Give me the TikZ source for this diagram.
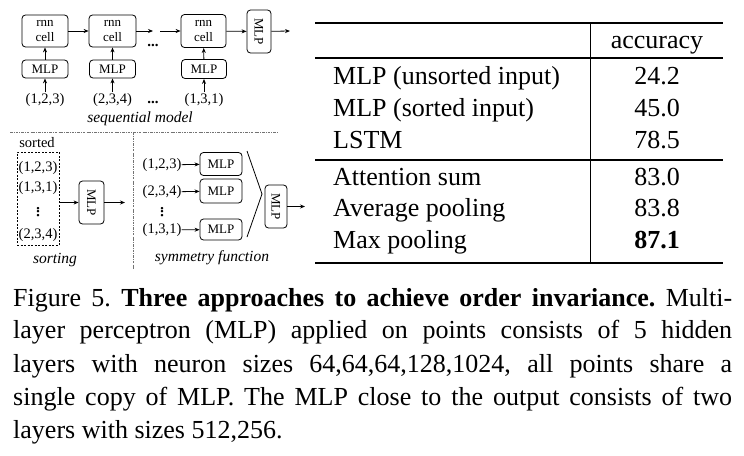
\documentclass[tikz,border=0pt]{standalone}
\usepackage{fontspec}
\setmainfont{Liberation Serif}
\usepackage{graphicx}
\usetikzlibrary{arrows.meta}
\frenchspacing
\begin{document}
\begin{tikzpicture}[x=1pt,y=-1pt]
\tikzset{
 bx/.style={draw, rounded corners=3.5pt, line width=0.8pt, inner sep=0pt, font=\fontsize{13}{15}\selectfont, align=center},
 lbl/.style={inner sep=0pt, font=\fontsize{14.5}{16}\selectfont},
 ital/.style={inner sep=0pt, font=\fontsize{15.5}{17}\selectfont\itshape},
 arr/.style={-{Stealth[length=5pt,width=4pt]}, line width=0.8pt},
 sepline/.style={draw=black!55, line width=0.7pt, dash pattern=on 2.5pt off 1.2pt on 0.7pt off 1.2pt},
 rulel/.style={line width=1.1pt},
 tab/.style={inner sep=0pt, anchor=base west, font=\fontsize{26}{30}\selectfont},
 num/.style={inner sep=0pt, anchor=base, font=\fontsize{26}{30}\selectfont},
 capl/.style={inner sep=0pt, anchor=base west, font=\fontsize{26}{30}\selectfont},
 dotsn/.style={inner sep=0pt, font=\fontsize{15}{16}\selectfont\bfseries},
}
\useasboundingbox (0,0) rectangle (744,455);

% ---------- sequential model ----------
\node[bx, minimum width=46pt, minimum height=32pt] (r1) at (45,31) {rnn\\cell};
\node[bx, minimum width=46pt, minimum height=18pt] (m1) at (45,69) {MLP};
\node[lbl] (i1) at (45,100) {(1,2,3)};
\node[bx, minimum width=47pt, minimum height=32pt] (r2) at (112.5,31) {rnn\\cell};
\node[bx, minimum width=46pt, minimum height=18pt] (m2) at (112.5,69) {MLP};
\node[lbl] (i2) at (112.5,100) {(2,3,4)};
\node[bx, minimum width=45pt, minimum height=33pt] (r3) at (203.5,31) {rnn\\cell};
\node[bx, minimum width=45pt, minimum height=19pt] (m3) at (204,69) {MLP};
\node[lbl] (i3) at (204,100) {(1,3,1)};
\node[bx, minimum width=24pt, minimum height=43pt] (ms) at (259,31.5) {\rotatebox{-90}{MLP}};
\coordinate (c1) at (153,31);
\coordinate (c2) at (160,31);
\coordinate (so) at (290,31);
\node[dotsn] (d1) at (153,45) {...};
\node[dotsn] (d2) at (153,102) {...};
\draw[arr] (r1) -- (r2);
\draw[arr] (r2) -- (c1);
\draw[arr] (c2) -- (r3);
\draw[arr] (r3) -- (ms);
\draw[arr] (ms) -- (so);
\draw[arr] (m1) -- (r1);
\draw[arr] (m2) -- (r2);
\draw[arr] (m3) -- (r3);
\draw[arr, shorten <=1pt] (i1) -- (m1);
\draw[arr, shorten <=1pt] (i2) -- (m2);
\draw[arr, shorten <=1pt] (i3) -- (m3);
\node[ital] (seqlab) at (140,119) {sequential model};

% ---------- separators ----------
\coordinate (h1) at (10,132);
\coordinate (h2) at (277,132);
\coordinate (v1) at (133,132);
\coordinate (v2) at (133,270);
\draw[sepline] (h1) -- (h2);
\draw[sepline] (v1) -- (v2);

% ---------- sorting ----------
\node[lbl] (sorted) at (37,143) {sorted};
\node[draw, dash pattern=on 2pt off 1.5pt, line width=0.75pt, minimum width=42pt, minimum height=93pt, inner sep=0pt] (sb) at (38,198.5) {};
\node[lbl] (s1) at (38,168) {(1,2,3)};
\node[lbl] (s2) at (38,188) {(1,3,1)};
\node[dotsn] (s3) at (38,212) {\rotatebox{90}{...}};
\node[lbl] (s4) at (38,235) {(2,3,4)};
\node[bx, minimum width=25pt, minimum height=43pt] (ma) at (91.5,202.5) {\rotatebox{-90}{MLP}};
\coordinate (ao) at (125,202.5);
\draw[arr] (sb.east |- ma.west) -- (ma.west);
\draw[arr] (ma) -- (ao);
\node[ital] (sortlab) at (55,260) {sorting};

% ---------- symmetry function ----------
\node[lbl] (y1) at (162,165) {(1,2,3)};
\node[lbl] (y2) at (162,192) {(2,3,4)};
\node[dotsn] (y3) at (162,212) {\rotatebox{90}{...}};
\node[lbl] (y4) at (162,230) {(1,3,1)};
\node[bx, minimum width=42pt, minimum height=23pt] (b1) at (221,164) {MLP};
\node[bx, minimum width=42pt, minimum height=24pt] (b2) at (221,191) {MLP};
\node[bx, minimum width=42pt, minimum height=21pt] (b3) at (221,229.5) {MLP};
\draw[arr] (y1) -- (b1);
\draw[arr] (y2) -- (b2);
\draw[arr] (y4) -- (b3);
\coordinate (g1) at (247,151);
\coordinate (g2) at (262,194);
\coordinate (g3) at (247,237);
\draw[line width=0.8pt] (g1) -- (g2) -- (g3);
\node[bx, minimum width=22pt, minimum height=43pt] (mb) at (276,206.5) {\rotatebox{-90}{MLP}};
\coordinate (bo) at (305,206.5);
\draw[arr] (mb) -- (bo);
\node[ital] (symlab) at (212,258) {symmetry function};

% ---------- table ----------
\coordinate (t1) at (315,23);
\coordinate (t2) at (723,23);
\coordinate (t3) at (315,58);
\coordinate (t4) at (723,58);
\coordinate (t5) at (315,160);
\coordinate (t6) at (723,160);
\coordinate (t7) at (315,263);
\coordinate (t8) at (723,263);
\coordinate (tv1) at (590,23);
\coordinate (tv2) at (590,263);
\draw[rulel] (t1) -- (t2);
\draw[rulel] (t3) -- (t4);
\draw[rulel] (t5) -- (t6);
\draw[rulel] (t7) -- (t8);
\draw[line width=0.9pt] (tv1) -- (tv2);
\node[num] (hacc) at (657,48) {accuracy};
\node[tab] (ra) at (333,84) {MLP (unsorted input)};
\node[tab] (rb) at (333,116) {MLP (sorted input)};
\node[tab] (rc) at (333,148) {LSTM};
\node[tab] (rd) at (333,185) {Attention sum};
\node[tab] (re) at (333,216) {Average pooling};
\node[tab] (rf) at (333,248) {Max pooling};
\node[num] (na) at (657,84) {24.2};
\node[num] (nb) at (657,116) {45.0};
\node[num] (nc) at (657,148) {78.5};
\node[num] (nd) at (657,185) {83.0};
\node[num] (ne) at (657,216) {83.8};
\node[num] (nf) at (657,248) {\textbf{87.1}};

% ---------- caption ----------
\node[capl] (cap1) at (13,306) {\makebox[719pt][s]{Figure 5. \textbf{Three approaches to achieve order invariance.} Multi-}};
\node[capl] (cap2) at (13,338) {\makebox[719pt][s]{layer perceptron (MLP) applied on points consists of 5 hidden}};
\node[capl] (cap3) at (13,372) {\makebox[719pt][s]{layers with neuron sizes 64,64,64,128,1024, all points share a}};
\node[capl] (cap4) at (13,405) {\makebox[719pt][s]{single copy of MLP. The MLP close to the output consists of two}};
\node[capl] (cap5) at (13,438) {layers with sizes 512,256.};
\end{tikzpicture}
\end{document}
